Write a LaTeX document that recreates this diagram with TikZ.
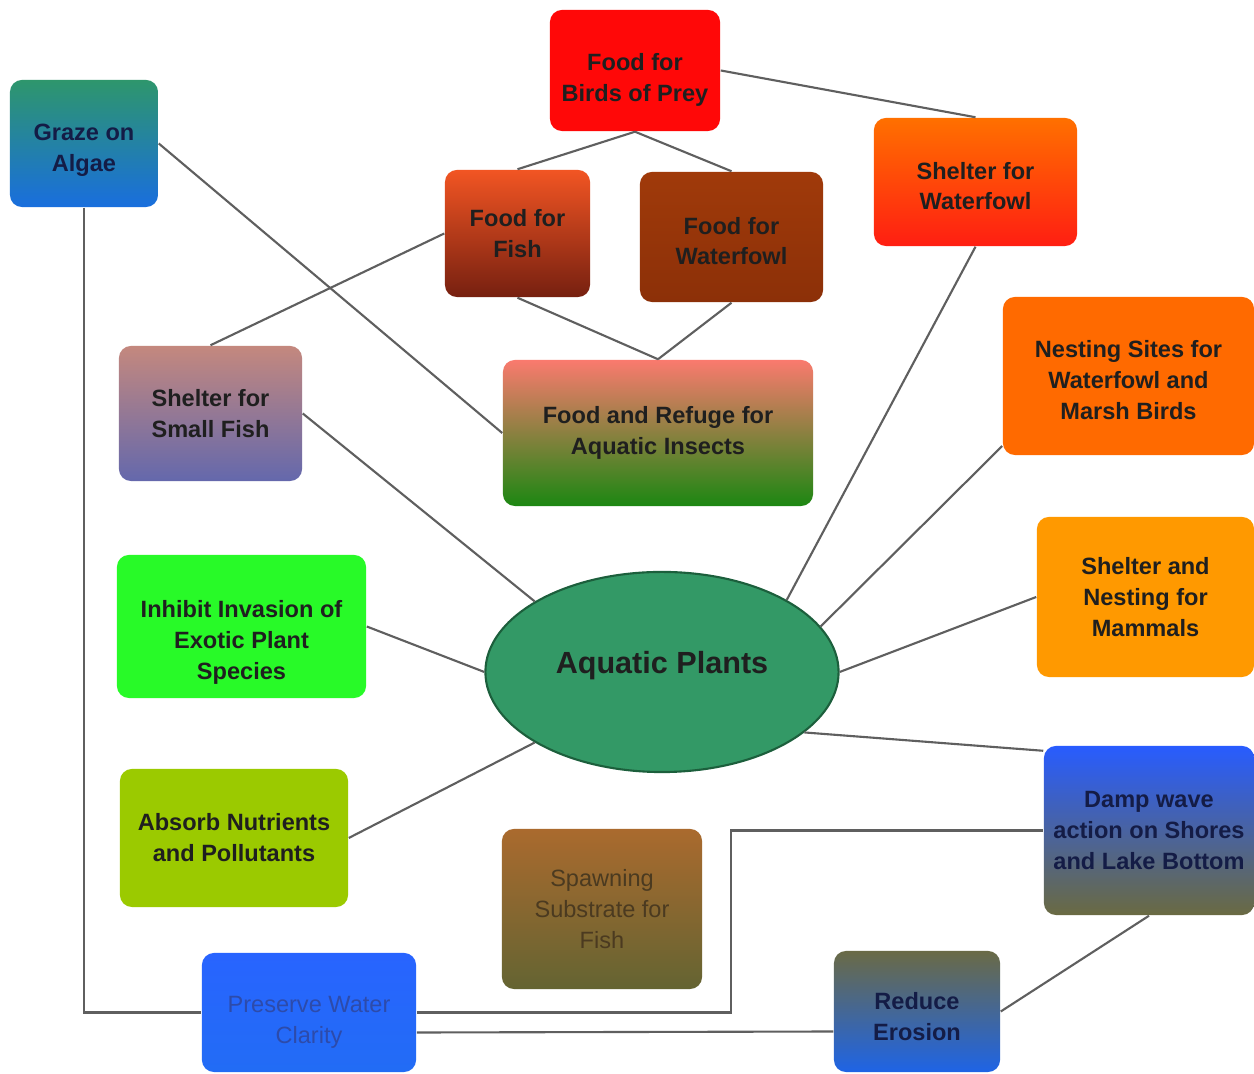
\documentclass[tikz,border=0pt]{standalone}
\usepackage{fontspec}
\setmainfont{Liberation Sans}
\usepackage{tikz}
\usetikzlibrary{calc}
\usetikzlibrary{shapes.geometric}

\definecolor{linegray}{RGB}{95,95,95}
\definecolor{plantgreen}{RGB}{51,153,102}
\definecolor{navytext}{RGB}{20,28,70}
\newcommand{\padtop}[1]{\rule{0pt}{\dimexpr0.172cm+#1*2\relax}}

\begin{document}
\begin{tikzpicture}[x=0.01cm, y=-0.01cm,
  box/.style={rounded corners=0.12cm, align=center, inner sep=2pt, text=black!88,
    font=\fontsize{6.7}{8.8}\selectfont\bfseries},
  link/.style={draw=linegray, line width=0.6pt}]
\useasboundingbox[fill=white] (0,0) rectangle (1254,1074);
\node (grazealgae) [box, top color={rgb,255:red,46;green,150;blue,108}, bottom color={rgb,255:red,25;green,110;blue,222}, text=navytext, minimum width=1.48cm, minimum height=1.27cm] at (84,143.5) {\padtop{0.06cm}Graze on\\Algae};
\node (birdsofprey) [box, fill={rgb,255:red,255;green,8;blue,8}, minimum width=1.70cm, minimum height=1.21cm] at (635,70.5) {\padtop{0.09cm}Food for\\Birds of Prey};
\node (foodfish) [box, top color={rgb,255:red,242;green,85;blue,35}, bottom color={rgb,255:red,118;green,32;blue,16}, minimum width=1.45cm, minimum height=1.27cm] at (517.5,233.5) {Food for\\Fish};
\node (foodwaterfowl) [box, top color={rgb,255:red,160;green,58;blue,10}, bottom color={rgb,255:red,140;green,48;blue,8}, minimum width=1.83cm, minimum height=1.30cm] at (731.5,237) {\padtop{0.04cm}Food for\\Waterfowl};
\node (shelterwaterfowl) [box, top color={rgb,255:red,255;green,112;blue,0}, bottom color={rgb,255:red,255;green,30;blue,18}, minimum width=2.03cm, minimum height=1.28cm] at (975.5,182) {\padtop{0.04cm}Shelter for\\Waterfowl};
\node (foodinsects) [box, top color={rgb,255:red,250;green,122;blue,110}, middle color={rgb,255:red,200;green,140;blue,50}, bottom color={rgb,255:red,28;green,135;blue,18}, minimum width=3.10cm, minimum height=1.46cm] at (658,433) {Food and Refuge for\\Aquatic Insects};
\node (shelterfish) [box, top color={rgb,255:red,196;green,136;blue,126}, bottom color={rgb,255:red,100;green,104;blue,172}, minimum width=1.83cm, minimum height=1.35cm] at (210.5,413.5) {Shelter for\\Small Fish};
\node (nestingsites) [box, fill={rgb,255:red,255;green,106;blue,0}, minimum width=2.51cm, minimum height=1.58cm] at (1128.5,376) {\padtop{0.04cm}Nesting Sites for\\Waterfowl and\\Marsh Birds};
\node (sheltermammals) [box, fill={rgb,255:red,255;green,153;blue,0}, minimum width=2.17cm, minimum height=1.60cm] at (1145.5,597) {Shelter and\\Nesting for\\Mammals};
\node (inhibitinvasion) [box, fill={rgb,255:red,40;green,250;blue,40}, minimum width=2.49cm, minimum height=1.43cm] at (241.5,626.5) {\padtop{0.16cm}Inhibit Invasion of\\Exotic Plant\\Species};
\node (aquaticplants) [ellipse, draw={rgb,255:red,28;green,95;blue,60}, line width=0.6pt, fill=plantgreen, minimum width=3.53cm, minimum height=2.0cm, inner sep=0pt, font=\fontsize{8.7}{10}\selectfont\bfseries, text=black!88] at (662,672) {\rule[-0.2cm]{0pt}{0.2cm}Aquatic Plants};
\node (absorbnutrients) [box, fill={rgb,255:red,155;green,202;blue,0}, minimum width=2.28cm, minimum height=1.38cm] at (234,838) {Absorb Nutrients\\and Pollutants};
\node (spawning) [box, top color={rgb,255:red,170;green,106;blue,46}, bottom color={rgb,255:red,100;green,100;blue,50}, text={rgb,255:red,75;green,58;blue,32}, font=\fontsize{6.7}{8.8}\selectfont, minimum width=2.00cm, minimum height=1.60cm] at (602,909) {Spawning\\Substrate for\\Fish};
\node (waterclarity) [box, top color={rgb,255:red,40;green,100;blue,255}, bottom color={rgb,255:red,34;green,108;blue,245}, text={rgb,255:red,45;green,75;blue,170}, font=\fontsize{6.7}{8.8}\selectfont, minimum width=2.14cm, minimum height=1.19cm] at (309,1012.5) {\padtop{0.09cm}Preserve Water\\Clarity};
\node (reduceerosion) [box, top color={rgb,255:red,106;green,106;blue,70}, bottom color={rgb,255:red,30;green,100;blue,230}, text=navytext, minimum width=1.66cm, minimum height=1.21cm] at (917,1011.5) {\padtop{0.05cm}Reduce\\Erosion};
\node (dampwave) [box, top color={rgb,255:red,40;green,92;blue,255}, bottom color={rgb,255:red,106;green,106;blue,66}, text=navytext, minimum width=2.10cm, minimum height=1.69cm] at (1149,830.5) {Damp wave\\action on Shores\\and Lake Bottom};
% links
\draw[link] (birdsofprey.east) -- (shelterwaterfowl.north);
\draw[link] (birdsofprey.south) -- (foodfish.north);
\draw[link] (birdsofprey.south) -- (foodwaterfowl.north);
\draw[link] (foodfish.south) -- (foodinsects.north);
\draw[link] (foodwaterfowl.south) -- (foodinsects.north);
\draw[link] (grazealgae.east) -- (foodinsects.west);
\draw[link] (foodfish.west) -- (shelterfish.north);
\draw[link] (shelterfish.east) -- (aquaticplants.151);
\draw[link] (shelterwaterfowl.south) -- (aquaticplants.30);
\draw[link] (nestingsites.209) -- (aquaticplants.16);
\draw[link] (sheltermammals.west) -- (aquaticplants.east);
\draw[link] (inhibitinvasion.east) -- (aquaticplants.west);
\draw[link] (absorbnutrients.east) -- (aquaticplants.209);
\draw[link] (aquaticplants.-23) -- (dampwave.143);
\draw[link] (grazealgae.south) |- (waterclarity.west);
\draw[link] (waterclarity.east) -- ++(314,0) |- (dampwave.west);
\draw[link] ([yshift=-0.2cm]waterclarity.east) -- ([yshift=-0.2cm]reduceerosion.west);
\draw[link] (reduceerosion.east) -- (dampwave.south);
\end{tikzpicture}
\end{document}
